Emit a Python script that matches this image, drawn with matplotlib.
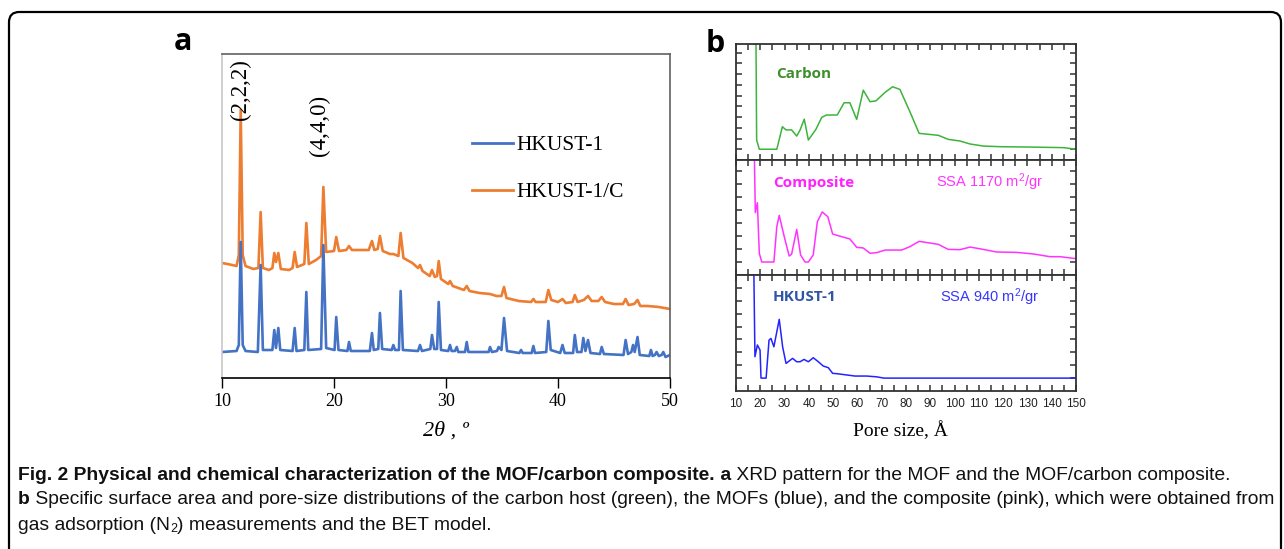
import matplotlib.pyplot as plt
import numpy as np
from matplotlib.patches import FancyBboxPatch
from matplotlib.ticker import MultipleLocator
from matplotlib.lines import Line2D
from matplotlib import font_manager

W, H = 1284, 549

# ---- panel a: XRD patterns (2theta in deg, intensity a.u.) ----
tt_mof = [10.0, 11.3, 11.5, 11.67, 11.85, 12.1, 13.2, 13.45, 13.65, 14.5, 14.67, 14.82, 15.03, 15.2,
          16.3, 16.49, 16.65, 17.35, 17.53, 17.7, 18.85, 19.05, 19.3, 20.05, 20.2, 20.4, 21.2, 21.34,
          21.5, 23.2, 23.39, 23.55, 23.95, 24.1, 24.3, 25.15, 25.3, 25.45, 25.8, 25.95, 26.15, 27.5,
          27.68, 27.85, 28.6, 28.75, 28.95, 29.2, 29.35, 29.55, 30.2, 30.36, 30.5, 30.8, 30.96, 31.1,
          31.7, 31.85, 32.0, 33.8, 33.93, 34.1, 34.55, 34.7, 34.95, 35.18, 35.45, 36.55, 36.7, 36.85,
          37.65, 37.8, 37.95, 38.95, 39.14, 39.35, 40.2, 40.4, 40.6, 41.35, 41.5, 41.7, 42.1, 42.26,
          42.45, 42.68, 42.9, 43.75, 43.9, 44.1, 45.85, 46.04, 46.25, 46.55, 46.7, 46.85, 47.1, 47.3,
          48.15, 48.3, 48.45, 48.65, 48.8, 49.0, 49.25, 49.4, 49.6, 50.0]
int_mof = [26, 27, 33, 136, 33, 27, 26, 113, 28, 28, 48, 30, 50, 28,
           27, 50, 27, 28, 86, 28, 29, 133, 30, 28, 61, 28, 27, 36,
           27, 27, 45, 28, 29, 65, 29, 28, 33, 28, 28, 87, 28, 27,
           33, 27, 29, 43, 29, 29, 76, 28, 27, 33, 27, 27, 31, 26,
           26, 36, 26, 26, 31, 26, 27, 31, 28, 60, 27, 25, 28, 25,
           25, 32, 25, 26, 57, 28, 25, 33, 25, 25, 43, 26, 26, 40,
           27, 38, 25, 24, 31, 24, 23, 38, 24, 26, 33, 26, 41, 23,
           22, 28, 22, 23, 26, 22, 23, 26, 21, 23]

tt_comp = [10.0, 10.5, 11.3, 11.5, 11.67, 11.85, 12.1, 12.8, 13.25, 13.45, 13.65, 14.2, 14.5, 14.67,
           14.82, 15.03, 15.25, 16.0, 16.3, 16.49, 16.7, 17.35, 17.53, 17.75, 18.4, 18.85, 19.05,
           19.3, 20.0, 20.2, 20.45, 21.1, 21.34, 21.6, 22.3, 23.1, 23.39, 23.6, 23.9, 24.1, 24.35,
           25.0, 25.3, 25.75, 25.95, 26.2, 27.0, 27.5, 27.68, 27.9, 28.55, 28.75, 29.0, 29.2, 29.35,
           29.55, 30.2, 30.36, 30.6, 31.6, 31.85, 32.1, 33.0, 33.93, 34.5, 34.95, 35.18, 35.4, 36.5,
           37.6, 37.8, 38.0, 38.9, 39.14, 39.4, 40.0, 40.4, 40.7, 41.3, 41.5, 41.75, 42.3, 42.68,
           43.0, 43.6, 43.9, 44.2, 45.0, 45.8, 46.04, 46.3, 46.8, 47.1, 47.35, 48.0, 49.0, 50.0]
int_comp = [115, 114, 112, 123, 268, 123, 112, 109, 110, 166, 110, 108, 110, 125,
            116, 125, 109, 108, 110, 126, 111, 114, 155, 114, 118, 122, 191,
            126, 127, 141, 127, 128, 132, 128, 128, 128, 137, 128, 129, 142, 127,
            124, 124, 122, 145, 120, 115, 110, 113, 107, 102, 108, 101, 102, 117,
            99, 94, 97, 92, 88, 92, 87, 85, 84, 82, 82, 91, 80, 77,
            76, 79, 76, 76, 88, 78, 76, 79, 75, 76, 83, 76, 78, 82,
            77, 77, 81, 76, 74, 74, 79, 73, 74, 78, 72, 72, 71, 69]

# ---- panel b: pore size distributions (pore size in A, dV a.u.) ----
pore_carbon = [18.2, 18.5, 19.6, 26.8, 29.1, 30.6, 32.9, 35.0, 36.4, 38.1, 39.8, 42.9, 45.3, 47.3,
               51.7, 54.5, 56.9, 59.7, 62.4, 65.2, 67.6, 71.4, 74.5, 77.5, 81.6, 85.4, 93.3, 97.4,
               102.2, 106.4, 111.8, 118.7, 132.4, 144.8, 149.6]
psd_carbon = [12.0, 1.86, 1.0, 1.0, 3.1, 2.8, 2.8, 2.23, 2.8, 3.8, 1.86, 2.85, 3.97, 4.19,
              4.19, 5.33, 5.33, 3.78, 6.5, 5.43, 5.5, 6.3, 6.82, 6.57, 4.5, 2.48, 2.3, 1.92,
              1.77, 1.49, 1.30, 1.24, 1.2, 1.15, 1.02]

pore_comp = [17.5, 17.95, 18.8, 19.6, 20.6, 25.6, 26.8, 27.8, 29.8, 31.9, 32.9, 35.0, 36.6, 38.4,
             39.8, 41.8, 43.5, 45.5, 47.8, 49.8, 56.9, 59.7, 62.4, 65.2, 67.9, 71.4, 78.2, 81.6,
             85.4, 93.3, 97.4, 102.2, 106.4, 111.8, 117.3, 125.6, 132.4, 139.3, 143.5, 149.9]
psd_comp = [10.0, 4.8, 5.56, 1.67, 1.0, 1.0, 3.72, 4.59, 3.0, 1.46, 1.6, 3.51, 1.54, 1.0,
            1.0, 1.54, 4.1, 4.85, 4.49, 3.15, 2.77, 2.13, 2.08, 1.67, 1.72, 1.92, 1.92, 2.18,
            2.59, 2.36, 1.97, 1.95, 2.15, 1.97, 1.77, 1.74, 1.62, 1.41, 1.41, 1.26]

pore_mof = [17.3, 17.8, 18.8, 19.9, 20.3, 22.4, 23.6, 24.4, 25.6, 27.8, 29.2, 30.6, 33.3, 35.0,
            36.4, 38.0, 39.8, 41.8, 43.9, 45.9, 48.0, 49.8, 51.7, 59.0, 63.8, 67.9, 70.9, 149.9]
psd_mof = [10.0, 2.66, 3.57, 3.18, 1.0, 1.0, 3.95, 4.08, 3.43, 5.56, 3.43, 2.14, 2.53, 2.27,
           2.27, 2.45, 2.27, 2.58, 2.27, 1.94, 1.81, 1.37, 1.34, 1.16, 1.16, 1.1, 1.0, 1.0]

serif = ['Liberation Serif', 'DejaVu Serif']
sans = ['Liberation Sans', 'DejaVu Sans']
plt.rcParams['mathtext.default'] = 'regular'


def fx(px):
    return px / W


def fy(py):
    return 1 - py / H


fig = plt.figure(figsize=(W / 100, H / 100), dpi=100)

# outer frame
frame = FancyBboxPatch((fx(9), fy(600)), fx(1281) - fx(9), fy(12) - fy(600),
                       boxstyle='round,pad=0,rounding_size=0.008', transform=fig.transFigure,
                       fill=False, ec='black', lw=1.6, mutation_aspect=W / H)
fig.patches.append(frame)

# ---------------- panel a ----------------
axa = fig.add_axes([fx(222), fy(378), fx(670) - fx(222), fy(54) - fy(378)])
axa.plot(tt_comp, int_comp, color='#ed7d31', lw=1.9)
axa.plot(tt_mof, int_mof, color='#4472c4', lw=1.9)
axa.set_xlim(10, 50)
axa.set_ylim(0, 324)
axa.set_yticks([])
axa.set_xticks([10, 20, 30, 40, 50])
axa.tick_params(axis='x', direction='out', length=7, width=1, labelsize=13, pad=4)
for lab in axa.get_xticklabels():
    lab.set_family(serif)
axa.spines['left'].set_color('#c8c8c8')
axa.spines['top'].set_color('#606060')
axa.spines['right'].set_color('#606060')
axa.spines['bottom'].set_color('black')
for s in axa.spines.values():
    s.set_linewidth(1.2)

axa.text(11.67, 288, '(2,2,2)', rotation=90, ha='center', va='center', fontsize=16.5, family=serif)
axa.text(18.7, 253, '(4,4,0)', rotation=90, ha='center', va='center', fontsize=16.5, family=serif)

handles = [Line2D([], [], color='#4472c4', lw=2), Line2D([], [], color='#ed7d31', lw=2)]
axa.legend(handles, ['HKUST-1', 'HKUST-1/C'], loc='upper left', bbox_to_anchor=(fx(453), fy(116)),
           bbox_transform=fig.transFigure, frameon=False, handlelength=1.9, handletextpad=0.15,
           labelspacing=1.25, prop={'family': serif, 'size': 15.5})

fig.text(fx(446), fy(431), '2θ , º', ha='center', va='center', fontsize=16, style='italic', family=serif)

# ---------------- panel b ----------------
left_b, right_b = fx(736), fx(1076)
rows = [(44, 160, 10.8, range(1, 11)), (160, 275, 8.85, range(1, 9)), (275, 391, 9.0, range(1, 9))]
series = [(pore_carbon, psd_carbon, '#3cb43c'), (pore_comp, psd_comp, '#ff33ff'), (pore_mof, psd_mof, '#2323ff')]
axes_b = []
for (top, bot, ymax, yt), (px_, py_, col) in zip(rows, series):
    ax = fig.add_axes([left_b, fy(bot), right_b - left_b, fy(top) - fy(bot)])
    ax.plot(px_, py_, color=col, lw=1.1)
    ax.set_xlim(10, 150)
    ax.set_ylim(0, ymax)
    ax.xaxis.set_major_locator(MultipleLocator(10))
    ax.xaxis.set_minor_locator(MultipleLocator(5))
    ax.set_yticks(list(yt))
    ax.tick_params(which='both', direction='in', length=4, width=1.1, top=True, right=True,
                   colors='#333333', labelleft=False, labelbottom=False)
    for s in ax.spines.values():
        s.set_linewidth(1.3)
        s.set_color('#333333')
    axes_b.append(ax)

axes_b[2].tick_params(axis='x', labelbottom=True, labelsize=8.5, labelcolor='#222222', pad=5)
for lab in axes_b[2].get_xticklabels():
    lab.set_family(sans)

axes_b[0].text(26.5, 8.0, 'Carbon', color='#3d8f2c', fontsize=11, fontweight='bold', family='Open Sans', va='center')
axes_b[1].text(25.1, 7.08, 'Composite', color='#ff22ff', fontsize=11, fontweight='bold', family='Open Sans', va='center')
axes_b[1].text(92.4, 7.15, 'SSA 1170 m$^2$/gr', color='#ff33ff', fontsize=10.5, family=sans, va='center')
axes_b[2].text(25.1, 7.29, 'HKUST-1', color='#2f55a4', fontsize=11, fontweight='bold', family='Open Sans', va='center')
axes_b[2].text(94.0, 7.29, 'SSA 940 m$^2$/gr', color='#3535ff', fontsize=10.5, family=sans, va='center')

fig.text(fx(900), fy(431), 'Pore size, Å', ha='center', va='center', fontsize=14, family=serif)

# panel letters
fig.text(fx(183), fy(42), 'a', ha='center', va='center', fontsize=22, fontweight='bold', family='Open Sans')
fig.text(fx(715), fy(44), 'b', ha='center', va='center', fontsize=22, fontweight='bold', family='Open Sans')

# ---------------- caption ----------------
cap_family = 'Liberation Sans'
for cand in ['Liberation Sans Narrow', 'Liberation Sans']:
    try:
        font_manager.findfont(cand, fallback_to_default=False)
        cap_family = cand
        break
    except ValueError:
        pass

renderer = fig.canvas.get_renderer()


def piece_width(s, size, weight):
    t1 = fig.text(0, 0, 'x' + s + 'x', fontsize=size, fontweight=weight, family=cap_family)
    t2 = fig.text(0, 0, 'xx', fontsize=size, fontweight=weight, family=cap_family)
    w = t1.get_window_extent(renderer).width - t2.get_window_extent(renderer).width
    t1.remove()
    t2.remove()
    return w


cap_lines = [
    (476, [('Fig. 2 Physical and chemical characterization of the MOF/carbon composite.', 'bold', 1, 0),
           (' a', 'bold', 1, 0), (' XRD pattern for the MOF and the MOF/carbon composite.', 'normal', 1, 0)]),
    (500, [('b', 'bold', 1, 0), (' Specific surface area and pore-size distributions of the carbon host (green), '
                                 'the MOFs (blue), and the composite (pink), which were obtained from', 'normal', 1, 0)]),
    (525, [('gas adsorption (N', 'normal', 1, 0), ('2', 'normal', 0.65, -4),
           (') measurements and the BET model.', 'normal', 1, 0)]),
]

base = 12
natural = sum(piece_width(s, base * sc, w) for s, w, sc, _ in cap_lines[1][1])
size = base * (1256 / natural)
for ypix, pieces in cap_lines:
    xpix = 18
    for s, w, sc, dy in pieces:
        fig.text(fx(xpix), fy(ypix - dy), s, fontsize=size * sc, fontweight=w, family=cap_family,
                 va='center', ha='left', color='#111111')
        xpix += piece_width(s, size * sc, w)

fig.savefig('out.png', dpi=100)
